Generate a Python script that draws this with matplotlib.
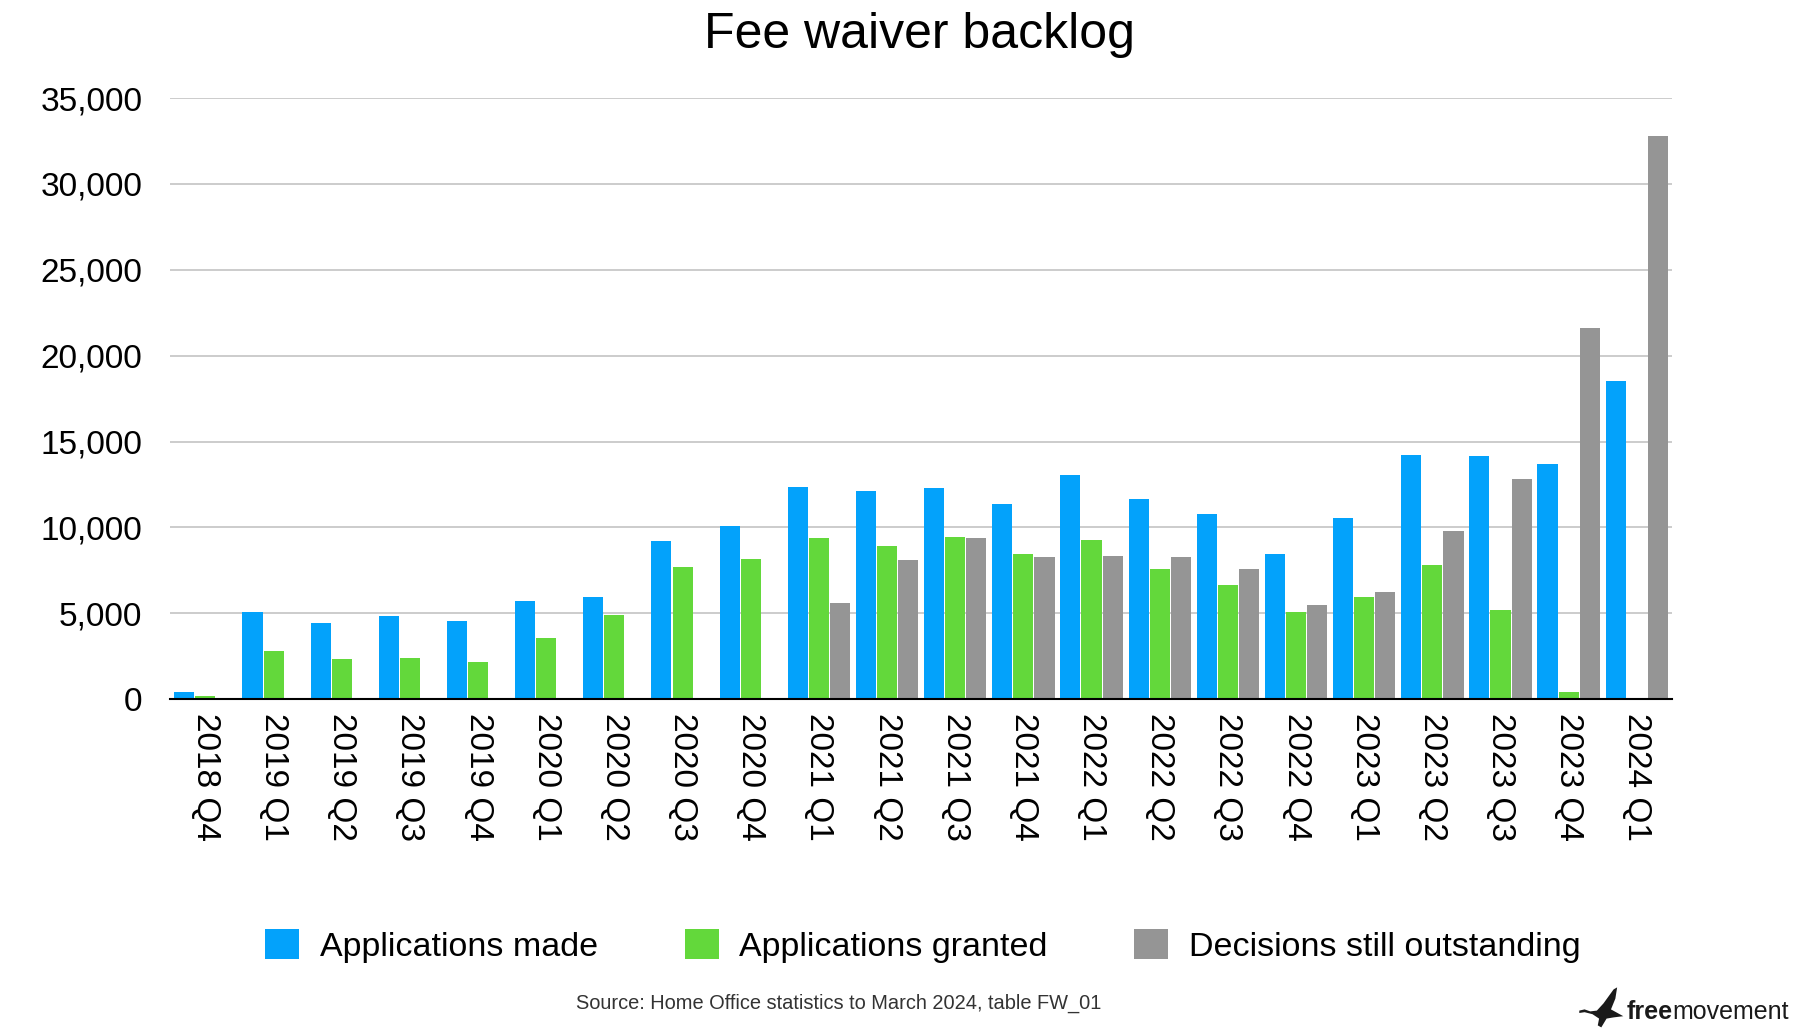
import matplotlib
matplotlib.use("Agg")
import matplotlib.pyplot as plt
import numpy as np
from matplotlib.patches import Patch, Polygon

quarters = ["2018 Q4", "2019 Q1", "2019 Q2", "2019 Q3", "2019 Q4",
            "2020 Q1", "2020 Q2", "2020 Q3", "2020 Q4",
            "2021 Q1", "2021 Q2", "2021 Q3", "2021 Q4",
            "2022 Q1", "2022 Q2", "2022 Q3", "2022 Q4",
            "2023 Q1", "2023 Q2", "2023 Q3", "2023 Q4", "2024 Q1"]
applications_made = [420, 5070, 4430, 4830, 4550, 5710, 5950, 9200, 10080,
                     12350, 12120, 12290, 11340, 13050, 11640, 10770, 8450,
                     10540, 14200, 14150, 13670, 18520]
applications_granted = [180, 2810, 2340, 2390, 2160, 3550, 4900, 7690, 8150,
                        9390, 8920, 9430, 8450, 9250, 7580, 6640, 5060,
                        5940, 7800, 5190, 410, 60]
decisions_outstanding = [0, 0, 0, 0, 0, 0, 0, 0, 0,
                         5590, 8120, 9370, 8270, 8340, 8270, 7580, 5480,
                         6240, 9790, 12800, 21590, 32780]
y_ticks = [0, 5000, 10000, 15000, 20000, 25000, 30000, 35000]
series_names = ["Applications made", "Applications granted", "Decisions still outstanding"]
colors = ["#03A2FB", "#63D83B", "#959595"]

plt.rcParams['font.family'] = ['Liberation Sans', 'DejaVu Sans']

W, H = 1797, 1032
fig = plt.figure(figsize=(W / 100, H / 100), dpi=100)
ax = fig.add_axes([0.0946, 0.3224, 0.836, 0.5826])

x = np.arange(len(quarters))
w = 0.295
off = 0.31
for i, vals in enumerate([applications_made, applications_granted, decisions_outstanding]):
    ax.bar(x + (i - 1) * off, vals, width=w, color=colors[i], zorder=3, linewidth=0)

ax.set_xlim(-0.52, len(quarters) - 0.48)
ax.set_ylim(0, 35000)
ax.set_yticks(y_ticks)
ax.set_yticklabels([f"{v:,}" for v in y_ticks], fontsize=24)
ax.yaxis.grid(True, color="#c8c8c8", linewidth=1.3, zorder=0)
ax.set_axisbelow(True)
ax.tick_params(axis='y', length=0, pad=20)
ax.set_xticks(x)
ax.set_xticklabels(quarters, rotation=270, fontsize=24, va='top', ha='center')
ax.tick_params(axis='x', length=0, pad=10)
for s in ['top', 'right', 'left']:
    ax.spines[s].set_visible(False)
ax.spines['bottom'].set_color('black')
ax.spines['bottom'].set_linewidth(1.5)
ax.spines['bottom'].set_zorder(4)

fig.text(0.5118, 0.966, "Fee waiver backlog", ha='center', va='center', fontsize=36)

handles = [Patch(facecolor=c, edgecolor='none') for c in colors]
fig.legend(handles, series_names, loc='center', bbox_to_anchor=(0.5135, 0.0835),
           ncol=3, frameon=False, fontsize=24.5, handlelength=1.0, handleheight=1.0,
           handletextpad=0.6, columnspacing=2.55)

fig.text(0.4665, 0.028, "Source: Home Office statistics to March 2024, table FW_01",
         ha='center', va='center', fontsize=14.4, color='#333333')

# logo
logo_y = 0.019
t2 = fig.text(0.9955, logo_y, "movement", ha='right', va='center', fontsize=18,
              color='#1a1a1a')
fig.canvas.draw()
bb = t2.get_window_extent()
t1 = fig.text(bb.x0 / W, logo_y, "free", ha='right', va='center', fontsize=18,
              fontweight='bold', color='#1a1a1a')
fig.canvas.draw()
bb1 = t1.get_window_extent()
# simple bird silhouette to the left of the wordmark
bx1 = bb1.x0 - 3
bw, bh = 44, 40
by0 = logo_y * H - 15
shape = [(0.0, 0.42), (0.12, 0.45), (0.25, 0.40), (0.40, 0.42), (0.55, 0.60),
         (0.78, 0.95), (0.86, 1.0), (0.82, 0.72), (0.72, 0.45), (1.0, 0.28),
         (0.78, 0.25), (0.62, 0.22), (0.50, 0.0), (0.42, 0.05), (0.45, 0.22),
         (0.30, 0.33), (0.12, 0.38), (0.0, 0.36)]
pts = [((bx1 - bw + px * bw) / W, (by0 + py * bh) / H) for px, py in shape]
fig.patches.append(Polygon(pts, closed=True, transform=fig.transFigure,
                           facecolor='#1a1a1a', edgecolor='none'))

fig.savefig("out.png", dpi=100)
